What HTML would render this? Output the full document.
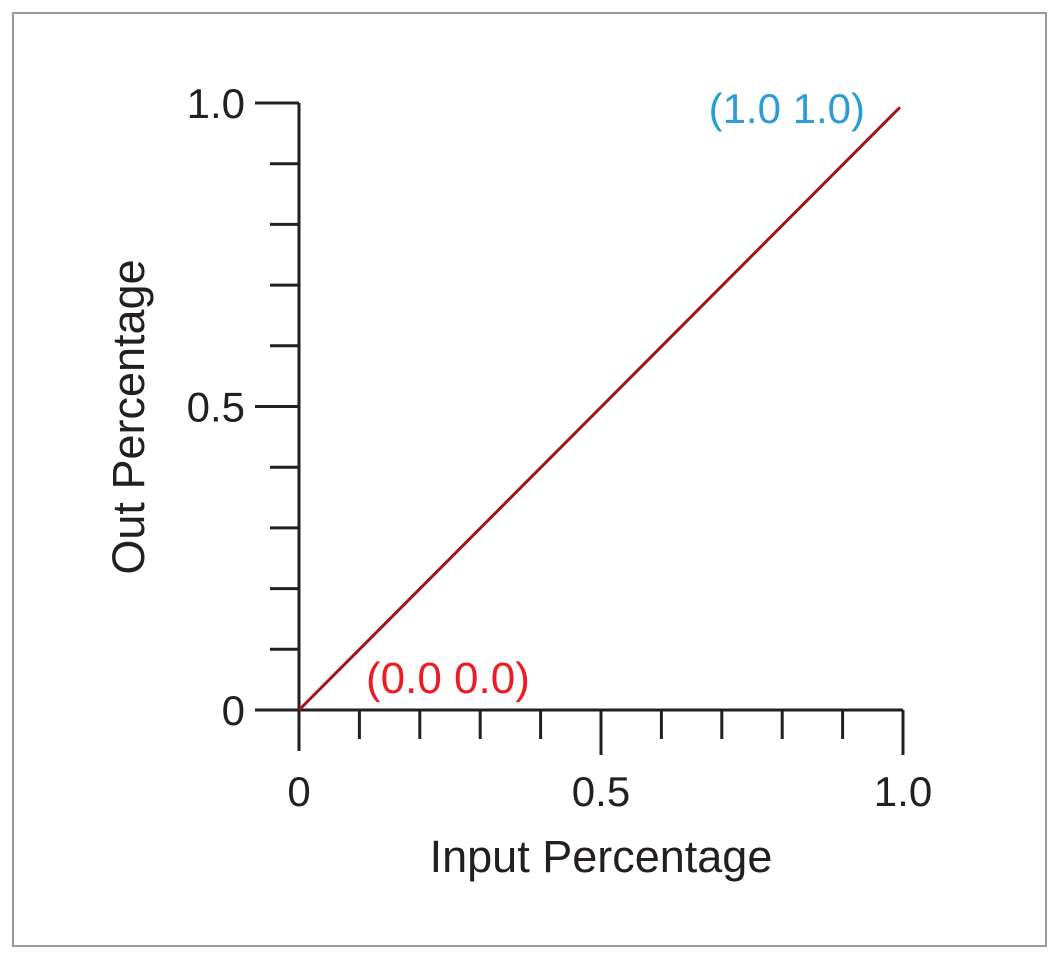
<!DOCTYPE html>
<html><head><meta charset="utf-8"><style>
html,body{margin:0;padding:0;background:#fff;width:1058px;height:960px;overflow:hidden}
svg text{font-family:"Liberation Sans",sans-serif}
</style></head><body>
<svg width="1058" height="960">
<rect x="13" y="13" width="1033" height="933" fill="none" stroke="#9a9a9a" stroke-width="2"/>
<g id="axes"></g>
<g id="marks"></g>
</svg>
<script>
const xTicks=[0,0.1,0.2,0.3,0.4,0.5,0.6,0.7,0.8,0.9,1.0];
const yTicks=[0,0.1,0.2,0.3,0.4,0.5,0.6,0.7,0.8,0.9,1.0];
const majorTicks=[0,0.5,1.0];
const tickLabels=["0","0.5","1.0"];
const seriesX=[0,0.995];
const seriesY=[0,0.993];
const pointLabels=["(0.0 0.0)","(1.0 1.0)"];
const X0=299,X1=903,Y0=710,Y1=103;
const sx=v=>X0+(X1-X0)*v, sy=v=>Y0-(Y0-Y1)*v;
const NS="http://www.w3.org/2000/svg";
function mk(p,t,a){const e=document.createElementNS(NS,t);for(const k in a)e.setAttribute(k,a[k]);p.appendChild(e);return e;}
const ax=document.getElementById('axes'),mg=document.getElementById('marks');
const st={stroke:"#231f20","stroke-width":3};
let e=mk(ax,'line',Object.assign({x1:X0,y1:Y1,x2:X0,y2:751},st));


e=mk(ax,'line',Object.assign({x1:255,y1:Y0,x2:X1,y2:Y0},st));


yTicks.forEach(v=>{if(v===0)return;const maj=majorTicks.includes(v);
 const t=mk(ax,'line',Object.assign({x1:maj?255:270,y1:sy(v),x2:X0,y2:sy(v)},st));
 
 });
xTicks.forEach(v=>{if(v===0)return;const maj=majorTicks.includes(v);
 const t=mk(ax,'line',Object.assign({x1:sx(v),y1:Y0,x2:sx(v),y2:maj?755:739},st));
 
 });
majorTicks.forEach((v,i)=>{
 let t=mk(ax,'text',{x:245,y:sy(v)+15,"text-anchor":"end","font-size":42,fill:"#231f20"});t.textContent=tickLabels[i];
 
 
 t=mk(ax,'text',{x:sx(v),y:806,"text-anchor":"middle","font-size":42,fill:"#231f20"});t.textContent=tickLabels[i];
 
 });
let t=mk(ax,'text',{x:601,y:872,"text-anchor":"middle","font-size":45,fill:"#231f20"});t.textContent="Input Percentage";


t=mk(ax,'text',{x:0,y:0,"text-anchor":"middle","font-size":45,fill:"#231f20",transform:"translate(144,417) rotate(-90)"});t.textContent="Out Percentage";


const pts=seriesX.map((x,i)=>sx(x)+","+sy(seriesY[i])).join(" ");
e=mk(mg,'polyline',{points:pts,fill:"none",stroke:"#a3131c","stroke-width":3});


t=mk(mg,'text',{x:366,y:693,"font-size":44,fill:"#ed1c24"});t.textContent=pointLabels[0];


t=mk(mg,'text',{x:865,y:123,"text-anchor":"end","font-size":42,fill:"#2b9cd8"});t.textContent=pointLabels[1];


</script>
</body></html>
